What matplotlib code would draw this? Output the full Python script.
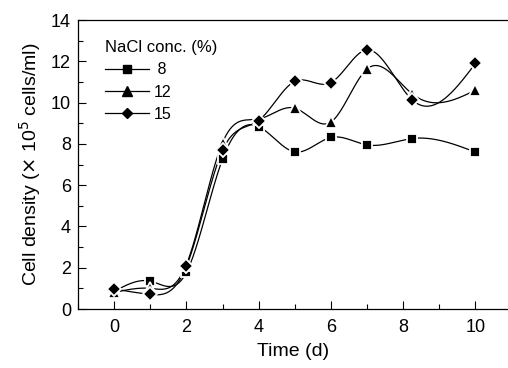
import numpy as np
import matplotlib.pyplot as plt
from matplotlib.ticker import MultipleLocator

plt.rcParams['font.family'] = ['Liberation Sans', 'DejaVu Sans']

# Données
days = [0, 1, 2, 3, 4, 5, 6, 7, 8.25, 10]
nacl_8 = [0.85, 1.35, 1.77, 7.26, 8.84, 7.61, 8.31, 7.95, 8.26, 7.60]
nacl_12 = [0.80, 1.00, 2.15, 8.06, 9.20, 9.73, 9.06, 11.63, 10.42, 10.60]
nacl_15 = [0.97, 0.71, 2.06, 7.68, 9.13, 11.03, 10.97, 12.56, 10.13, 11.90]
labels = [' 8', '12', '15']
markers = ['s', '^', 'D']
sizes = [7.5, 8.5, 7]


def natural_spline(x, y, n=400):
    # spline cubique naturelle (comme la connexion "spline" d'Origin)
    x = np.asarray(x, float)
    y = np.asarray(y, float)
    k = len(x)
    h = np.diff(x)
    A = np.zeros((k, k))
    b = np.zeros(k)
    A[0, 0] = A[-1, -1] = 1
    for i in range(1, k - 1):
        A[i, i - 1] = h[i - 1]
        A[i, i] = 2 * (h[i - 1] + h[i])
        A[i, i + 1] = h[i]
        b[i] = 6 * ((y[i + 1] - y[i]) / h[i] - (y[i] - y[i - 1]) / h[i - 1])
    M = np.linalg.solve(A, b)
    xs = np.linspace(x[0], x[-1], n)
    j = np.clip(np.searchsorted(x, xs) - 1, 0, k - 2)
    t0 = x[j + 1] - xs
    t1 = xs - x[j]
    ys = (M[j] * t0 ** 3 + M[j + 1] * t1 ** 3) / (6 * h[j]) \
        + (y[j] / h[j] - M[j] * h[j] / 6) * t0 \
        + (y[j + 1] / h[j] - M[j + 1] * h[j] / 6) * t1
    return xs, ys


fig = plt.figure(figsize=(5.08, 3.68), dpi=100)
ax = fig.add_axes([0.1535, 0.1603, 0.8465, 0.7853])

for serie, lab, m, s in zip([nacl_8, nacl_12, nacl_15], labels, markers, sizes):
    xs, ys = natural_spline(days, serie)
    ax.plot(xs, ys, color='black', lw=0.9, zorder=2)
    ax.plot(days, serie, ls='none', marker=m, ms=s, color='black',
            mec='white', mew=1.3, zorder=3)
    # entrée de légende
    ax.plot([], [], color='black', lw=0.9, marker=m, ms=s - 1.5, label=lab)

ax.set_xlim(-1, 10.9)
ax.set_ylim(0, 14)
ax.xaxis.set_major_locator(MultipleLocator(2))
ax.xaxis.set_minor_locator(MultipleLocator(1))
ax.yaxis.set_major_locator(MultipleLocator(2))
ax.yaxis.set_minor_locator(MultipleLocator(1))
ax.tick_params(which='both', direction='in', labelsize=13, width=0.8)
ax.tick_params(which='major', length=6)
ax.tick_params(which='minor', length=3.5)
ax.tick_params(axis='x', which='major', pad=7)
ax.tick_params(axis='y', which='major', pad=5)
ax.tick_params(top=False, right=False)
ax.spines['right'].set_visible(False)
for sp in ['left', 'bottom', 'top']:
    ax.spines[sp].set_linewidth(0.9)

ax.set_xlabel('Time (d)', fontsize=14, labelpad=5)
ax.set_ylabel(r'Cell density ($\times$ 10$^5$ cells/ml)', fontsize=14, labelpad=6)

leg = ax.legend(title='NaCl conc. (%)', loc='upper left', bbox_to_anchor=(0.064, 0.93),
                frameon=False, fontsize=11.5, title_fontsize=12, handlelength=2.7,
                handletextpad=0.3, labelspacing=0.45, borderaxespad=0, borderpad=0)
leg._legend_box.align = 'left'

fig.savefig('out.png', dpi=100)
